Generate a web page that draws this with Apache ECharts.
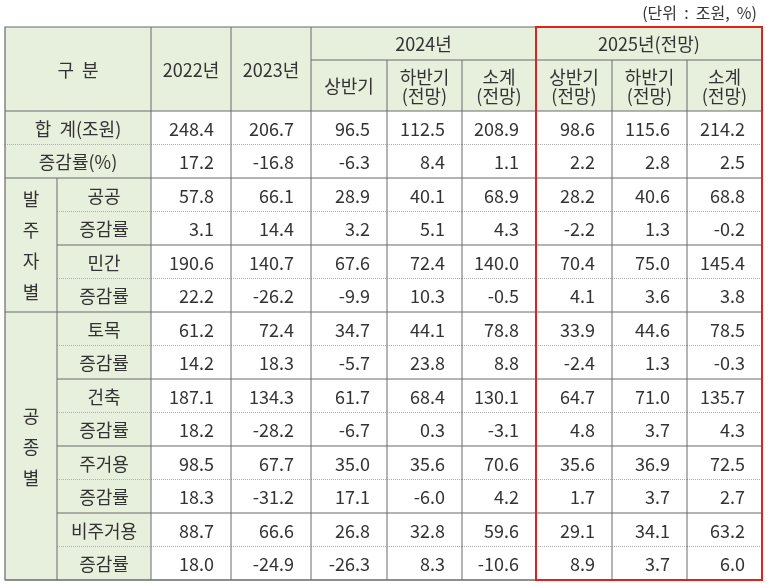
<!DOCTYPE html>
<html><head><meta charset="utf-8">
<script src="https://cdn.jsdelivr.net/npm/echarts@6/dist/echarts.min.js"></script>
<style>html,body{margin:0;padding:0;background:#fff}#c{width:768px;height:585px}</style>
</head><body><div id="c"></div>
<script>
// ---- data ----
const unitText = '(단위  :  조원,  %)';
const yearHeaders = ['2022년', '2023년', '2024년', '2025년(전망)'];
const subHeaders2024 = ['상반기', '하반기\n(전망)', '소계\n(전망)'];
const subHeaders2025 = ['상반기\n(전망)', '하반기\n(전망)', '소계\n(전망)'];
const cornerLabel = '구  분';
const topRowLabels = ['합  계(조원)', '증감률(%)'];
const groupLabels = ['발\n주\n자\n별', '공\n종\n별'];
const groupSizes = [4, 8];
const subRowLabels = ['공공', '증감률', '민간', '증감률', '토목', '증감률', '건축', '증감률', '주거용', '증감률', '비주거용', '증감률'];
const values = [
  [248.4, 206.7, 96.5, 112.5, 208.9, 98.6, 115.6, 214.2],
  [17.2, -16.8, -6.3, 8.4, 1.1, 2.2, 2.8, 2.5],
  [57.8, 66.1, 28.9, 40.1, 68.9, 28.2, 40.6, 68.8],
  [3.1, 14.4, 3.2, 5.1, 4.3, -2.2, 1.3, -0.2],
  [190.6, 140.7, 67.6, 72.4, 140.0, 70.4, 75.0, 145.4],
  [22.2, -26.2, -9.9, 10.3, -0.5, 4.1, 3.6, 3.8],
  [61.2, 72.4, 34.7, 44.1, 78.8, 33.9, 44.6, 78.5],
  [14.2, 18.3, -5.7, 23.8, 8.8, -2.4, 1.3, -0.3],
  [187.1, 134.3, 61.7, 68.4, 130.1, 64.7, 71.0, 135.7],
  [18.2, -28.2, -6.7, 0.3, -3.1, 4.8, 3.7, 4.3],
  [98.5, 67.7, 35.0, 35.6, 70.6, 35.6, 36.9, 72.5],
  [18.3, -31.2, 17.1, -6.0, 4.2, 1.7, 3.7, 2.7],
  [88.7, 66.6, 26.8, 32.8, 59.6, 29.1, 34.1, 63.2],
  [18.0, -24.9, -26.3, 8.3, -10.6, 8.9, 3.7, 6.0]
];

// ---- layout (column / row edges in table units) ----
const colEdges = [0, 52, 146, 226, 306, 382, 457, 531, 607, 682, 757];
const rowEdges = [0, 33, 84];
for (let i = 0; i < values.length; i++) rowEdges.push(84 + (i + 1) * 33.5);
const HDR = 2;

const GREEN = '#e7f0dc', LINE = '#6a6a6a', TXT = '#333';
const cells = [];
cells.push([0, 2, 0, 2, cornerLabel, 'hdr', 0]);
cells.push([2, 3, 0, 2, yearHeaders[0], 'hdr', 0]);
cells.push([3, 4, 0, 2, yearHeaders[1], 'hdr', 0]);
cells.push([4, 7, 0, 1, yearHeaders[2], 'hdr', 0]);
cells.push([7, 10, 0, 1, yearHeaders[3], 'hdr', 0]);
subHeaders2024.forEach((t, i) => cells.push([4 + i, 5 + i, 1, 2, t, 'hdr', 0]));
subHeaders2025.forEach((t, i) => cells.push([7 + i, 8 + i, 1, 2, t, 'hdr', 0]));
topRowLabels.forEach((t, i) => cells.push([0, 2, HDR + i, HDR + i + 1, t, 'hdr', i % 2 === 0 ? 1 : 0]));
let r = HDR + 2;
groupLabels.forEach((g, gi) => {
  cells.push([0, 1, r, r + groupSizes[gi], g, 'grp', 0]);
  r += groupSizes[gi];
});
subRowLabels.forEach((t, i) => cells.push([1, 2, HDR + 2 + i, HDR + 3 + i, t, 'hdr', i % 2 === 0 ? 1 : 0]));
values.forEach((row, ri) => row.forEach((v, ci) =>
  cells.push([2 + ci, 3 + ci, HDR + ri, HDR + ri + 1, v.toFixed(1), 'num', ri % 2 === 0 ? 1 : 0])));
cells.push([0, 10, 0, values.length + HDR, '', 'frame', 0]);
cells.push([7, 10, 0, values.length + HDR, '', 'red', 0]);

const chart = echarts.init(document.getElementById('c'));
chart.setOption({
  animation: false,
  title: { text: unitText, right: 6, top: 0, textStyle: { fontSize: 16, fontWeight: 'normal', color: TXT, fontFamily: 'Noto Sans CJK KR' } },
  grid: { left: 5, right: 6, top: 27, bottom: 5 },
  xAxis: { type: 'value', min: 0, max: colEdges[colEdges.length - 1], show: false },
  yAxis: { type: 'value', min: 0, max: rowEdges[rowEdges.length - 1], inverse: true, show: false },
  series: [{
    type: 'custom',
    coordinateSystem: 'cartesian2d',
    data: cells,
    encode: { x: [0, 1], y: [2, 3] },
    renderItem: (params, api) => {
      const c0 = api.value(0), c1 = api.value(1), r0 = api.value(2), r1 = api.value(3);
      const kind = cells[params.dataIndex][5];
      const text = cells[params.dataIndex][4];
      const dotted = cells[params.dataIndex][6];
      const p0 = api.coord([colEdges[c0], rowEdges[r0]]);
      const p1 = api.coord([colEdges[c1], rowEdges[r1]]);
      const x0 = p0[0], y0 = p0[1], x1 = p1[0], y1 = p1[1];
      if (kind === 'red') {
        return { type: 'rect', shape: { x: x0, y: y0, width: x1 - x0, height: y1 - y0 }, style: { fill: 'none', stroke: '#e0211f', lineWidth: 2 }, z2: 20 };
      }
      if (kind === 'frame') {
        return { type: 'rect', shape: { x: x0, y: y0, width: x1 - x0, height: y1 - y0 }, style: { fill: 'none', stroke: LINE, lineWidth: 1.2 }, z2: 15 };
      }
      const children = [
        { type: 'rect', shape: { x: x0, y: y0, width: x1 - x0, height: y1 - y0 }, style: { fill: kind === 'num' ? '#fff' : GREEN }, z2: 1 },
        { type: 'line', shape: { x1: x1, y1: y0, x2: x1, y2: y1 }, style: { stroke: LINE, lineWidth: 1 }, z2: 5 },
        { type: 'line', shape: { x1: x0, y1: y1, x2: x1, y2: y1 }, style: { stroke: dotted ? '#aaa' : LINE, lineWidth: 1, lineDash: dotted ? [1, 1] : null }, z2: dotted ? 4 : 6 }
      ];
      const isNum = kind === 'num';
      children.push({
        type: 'text', z2: 10,
        style: {
          text: text, x: isNum ? x1 - 17 : (x0 + x1) / 2, y: (y0 + y1) / 2 + 1,
          align: isNum ? 'right' : 'center', verticalAlign: 'middle',
          fontSize: 18, fill: TXT, fontFamily: 'Noto Sans CJK KR',
          lineHeight: kind === 'grp' ? 31 : 19
        }
      });
      return { type: 'group', children };
    }
  }]
});
</script></body></html>
